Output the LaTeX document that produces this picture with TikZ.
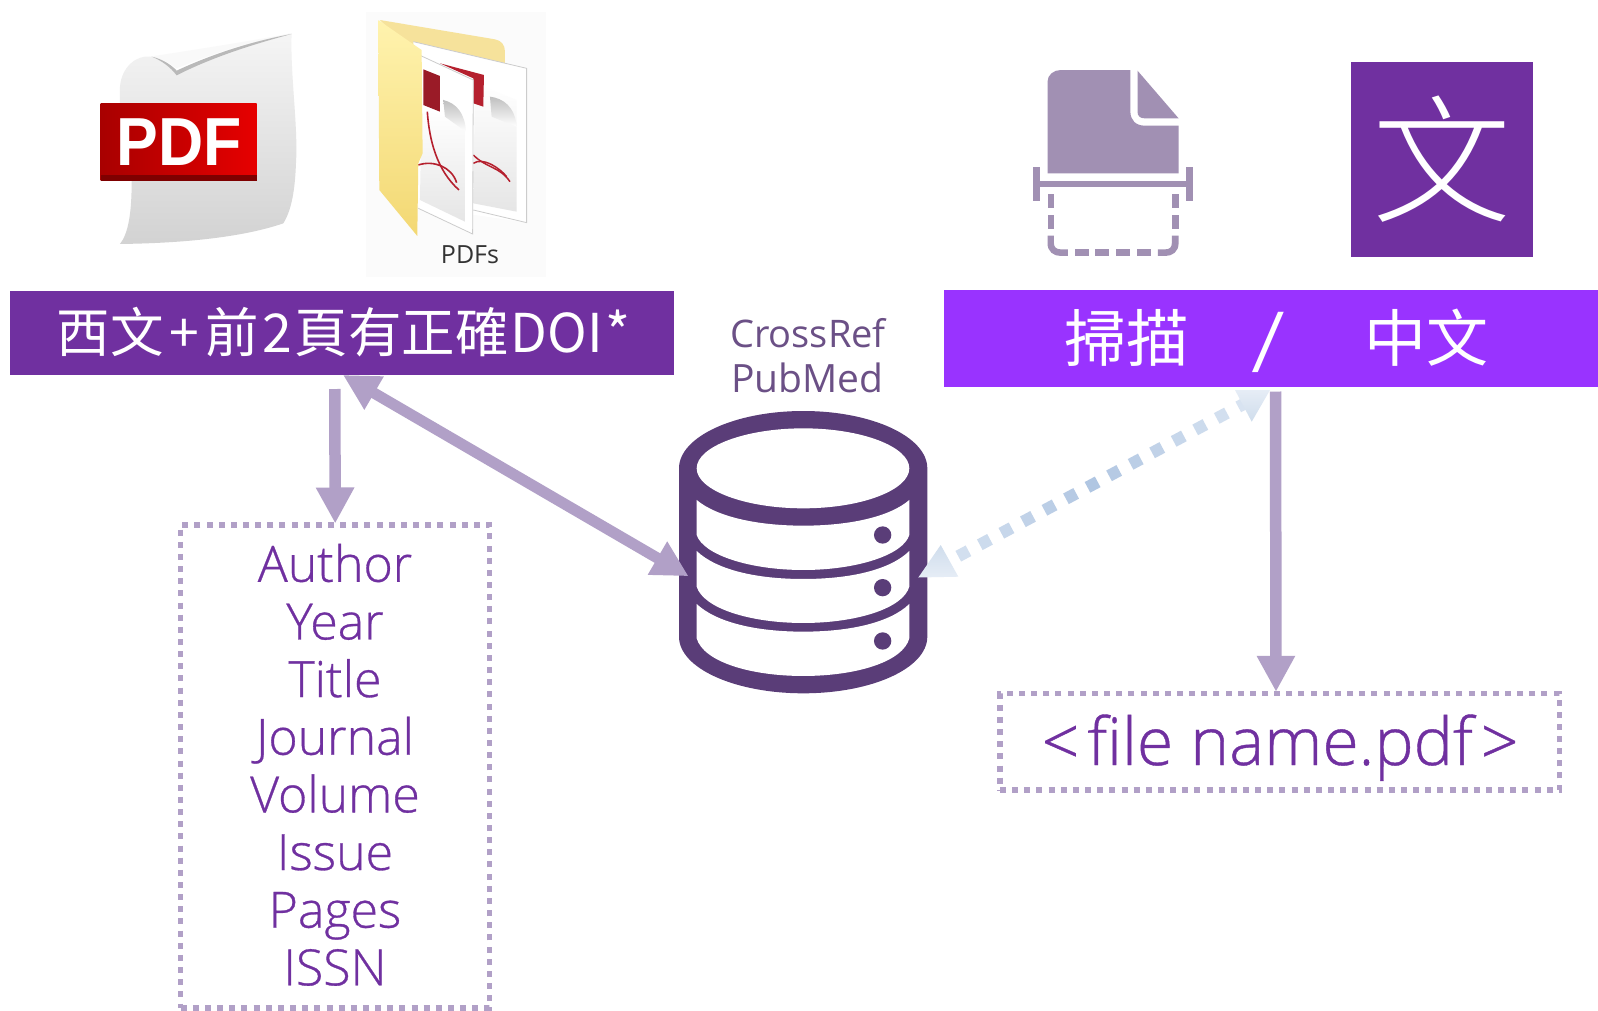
\documentclass[tikz,border=0pt]{standalone}
\usepackage{fontspec}
\usetikzlibrary{arrows.meta,calc}
\newfontfamily\cjkf{Noto Sans CJK TC}
\newfontfamily\cjkl{Noto Sans CJK TC Light}
\newfontfamily\latf{Open Sans}
\newfontfamily\latl{Open Sans Light}[FakeBold=0.6]
\newfontfamily\boldf{Liberation Sans}[BoldFont={Liberation Sans Bold}]
\definecolor{purp}{HTML}{7030A0}
\definecolor{brightp}{HTML}{9933FF}
\definecolor{lav}{HTML}{B1A0C7}
\definecolor{dbc}{HTML}{5A3D78}
\definecolor{scanc}{HTML}{A190B3}
\definecolor{midb}{HTML}{B0C6E2}
\definecolor{endb}{HTML}{D8E3F1}
\definecolor{headA}{HTML}{CFDDEC}
\definecolor{headB}{HTML}{E6EDF6}
\definecolor{redL}{HTML}{A80000}
\definecolor{redR}{HTML}{E60000}
\definecolor{foldB}{HTML}{F6E29B}
\definecolor{foldT}{HTML}{FFF3AE}
\definecolor{foldD}{HTML}{F3D873}
\definecolor{crimson}{HTML}{B5202E}
\tikzset{
 banner/.style={rectangle,inner sep=0pt,outer sep=0pt},
 dotbox/.style={rectangle,draw=lav,line width=5.5pt,dash pattern=on 6pt off 6.15pt,inner sep=0pt,outer sep=0pt},
 conn/.style={draw=lav,line width=11.5pt,-{Triangle[width=36pt,length=36pt,fill=lav]}},
 conntwo/.style={draw=lav,line width=11pt,{Triangle[width=36pt,length=36pt,fill=lav]}-{Triangle[width=36pt,length=36pt,fill=lav]}},
}
\begin{document}
\begin{tikzpicture}[x=1pt,y=-1pt]
\useasboundingbox (0,0) rectangle (1598,1010);
\fill[white] (0,0) rectangle (1598,1010);

% PDF page icon
\begin{scope}[xshift=60pt,x=0.3333pt,y=-0.3333pt]
\shade[top color=gray!8,bottom color=gray!35] (180,732) .. controls (205,700) and (215,640) .. (215,545)
 -- (180,312) -- (180,260) .. controls (185,200) and (230,165) .. (270,170)
 .. controls (300,175) and (330,195) .. (350,225) .. controls (450,165) and (560,125) .. (695,100)
 .. controls (690,220) and (715,380) .. (708,490) .. controls (705,570) and (695,630) .. (670,670)
 .. controls (540,715) and (350,730) .. (180,732) -- cycle;
\fill[gray!5] (270,170) .. controls (400,150) and (560,125) .. (695,100) .. controls (560,125) and (450,165) .. (350,205) .. controls (330,190) and (300,172) .. (270,170) -- cycle;
\fill[gray!55] (275,170) .. controls (305,176) and (335,195) .. (350,212) .. controls (450,165) and (570,125) .. (695,102) .. controls (570,135) and (450,175) .. (350,226) .. controls (330,200) and (305,182) .. (275,170) -- cycle;
\shade[left color=redL,right color=redR] (122,312) rectangle (590,542);
\fill[redL!75!black] (122,524) rectangle (590,542);
\node[font=\boldf\bfseries\fontsize{68}{68}\selectfont,text=white,anchor=base,inner sep=0pt] (pdfw) at (358,497) {\scalebox{0.92}[1]{PDF}};
\end{scope}

% PDFs folder icon
\fill[gray!3] (366,12) rectangle (546,277);
\begin{scope}[xshift=60pt,x=0.3333pt,y=-0.3333pt]
\fill[foldB] (960,60) -- (1305,118) .. controls (1325,122) and (1335,135) .. (1335,155) -- (1335,200) -- (1100,200) -- cycle;
\fill[white] (1060,125) -- (1400,205) -- (1400,668) -- (1075,620) -- cycle;
\draw[gray!40,line width=0.8pt] (1060,125) -- (1400,205) -- (1400,668) -- (1240,630);
\shade[top color=white,bottom color=gray!20] (1245,250) -- (1370,300) -- (1370,635) -- (1240,610) -- cycle;
\fill[crimson] (1140,190) -- (1272,225) -- (1270,320) -- (1240,310) -- (1240,235) -- cycle;
\shade[top color=gray!50,bottom color=white] (1290,290) .. controls (1330,295) and (1365,320) .. (1370,380) -- (1295,350) -- cycle;
\draw[crimson,line width=1.5pt] (1240,465) .. controls (1280,505) and (1320,500) .. (1350,545);
\draw[crimson,line width=1.5pt] (1240,490) .. controls (1270,470) and (1320,505) .. (1340,530);
\fill[white] (1078,165) -- (1240,240) -- (1238,702) -- (1075,625) -- cycle;
\draw[gray!40,line width=0.8pt] (1078,165) -- (1240,240) -- (1238,702) -- (1075,625);
\shade[top color=white,bottom color=gray!20] (1085,330) -- (1215,370) -- (1215,665) -- (1080,600) -- cycle;
\fill[crimson!85!black] (1090,208) -- (1140,228) -- (1140,335) -- (1090,315) -- cycle;
\shade[top color=gray!50,bottom color=white] (1150,300) .. controls (1190,310) and (1215,340) .. (1218,395) -- (1155,350) -- cycle;
\draw[crimson,line width=1.6pt] (1102,335) .. controls (1108,420) and (1130,510) .. (1197,570);
\draw[crimson,line width=1.6pt] (1075,495) .. controls (1120,480) and (1175,500) .. (1190,548);
\shade[top color=foldT,bottom color=foldD] (955,60) -- (1085,150) -- (1088,460) -- (1075,490) -- (1072,708) -- (958,570) -- cycle;
\end{scope}
\node[font=\latf\fontsize{25}{25}\selectfont,text=black!80,anchor=base,inner sep=0pt] (pdfs) at (470,263) {PDFs};

% scan icon
\begin{scope}[xshift=1000pt,yshift=-40pt,x=0.35714pt,y=-0.3333pt]
\fill[scanc] (133,400) -- (133,125) .. controls (133,105) and (150,90) .. (170,90) -- (365,90) -- (365,215) .. controls (365,240) and (380,257) .. (405,257) -- (500,257) -- (500,400) -- cycle;
\fill[scanc] (385,92) -- (500,235) -- (405,235) .. controls (392,235) and (385,228) .. (385,215) -- cycle;
\fill[scanc] (93,380) rectangle (113,484);
\fill[scanc] (520,380) rectangle (540,484);
\fill[scanc] (113,422) rectangle (520,442);
\foreach \yy in {462,524} {
 \fill[scanc] (133,\yy) rectangle (151,\yy+43);
 \fill[scanc] (481,\yy) rectangle (500,\yy+43);
}
\foreach \xx in {209,267,326,384} \fill[scanc] (\xx,628) rectangle (\xx+39,648);
\fill[scanc] (133,587) -- (133,610) .. controls (133,635) and (150,648) .. (170,648) -- (190,648) -- (190,628) -- (170,628) .. controls (158,628) and (151,622) .. (151,610) -- (151,587) -- cycle;
\fill[scanc] (500,587) -- (500,610) .. controls (500,635) and (483,648) .. (463,648) -- (442,648) -- (442,628) -- (463,628) .. controls (475,628) and (481,622) .. (481,610) -- (481,587) -- cycle;
\end{scope}

% wen icon
\node[banner,fill=purp,minimum width=182pt,minimum height=195pt,font=\cjkl\fontsize{139}{139}\selectfont,text=white] (wen) at (1442,159.5) {文};

% banners
\node[banner,fill=purp,minimum width=664pt,minimum height=84pt] (bL) at (342,333) {};
\node[font=\cjkf\fontsize{53.5}{53.5}\selectfont,text=white,anchor=base,inner sep=0pt] (bLt) at (343.5,352) {西文\hspace{6pt}+\hspace{6pt}前\hspace{3pt}2\hspace{3pt}頁有正確\hspace{2pt}DOI\hspace{2pt}*};
\node[banner,fill=brightp,minimum width=654pt,minimum height=97pt] (bR) at (1271,338.5) {};
\node[font=\cjkf\fontsize{62}{62}\selectfont,text=white,anchor=base,inner sep=0pt] (bRt) at (1276.5,361) {掃描\hspace{63pt}\scalebox{1.4}[1]{/}\hspace{79pt}中文};

% labels
\node[font=\latf\fontsize{38}{38}\selectfont,text=dbc!90,anchor=base,inner sep=0pt] (cr) at (808,347.5) {CrossRef};
\node[font=\latf\fontsize{39}{39}\selectfont,text=dbc!90,anchor=base,inner sep=0pt] (pm) at (807.5,392.5) {PubMed};

% database
\node[minimum width=248.3pt,minimum height=282.3pt,inner sep=0pt,outer sep=0pt] (db) at (803.2,552.2) {};
\begin{scope}[xshift=640pt,yshift=-380pt,x=0.3333pt,y=-0.3333pt]
\fill[dbc] (117,265) .. controls (117,170) and (285,93) .. (490,93) .. controls (695,93) and (862,170) .. (862,265) -- (862,770)
 .. controls (862,865) and (695,940) .. (490,940) .. controls (285,940) and (117,865) .. (117,770) -- cycle;
\fill[white] (170,265) .. controls (170,200) and (315,145) .. (490,145) .. controls (665,145) and (808,200) .. (808,265) .. controls (808,330) and (665,385) .. (490,385) .. controls (315,385) and (170,330) .. (170,265) -- cycle;
\fill[white] (170,360) .. controls (230,410) and (350,437) .. (490,437) .. controls (630,437) and (750,410) .. (808,360) -- (808,465) .. controls (790,525) and (650,570) .. (490,570) .. controls (330,570) and (190,525) .. (170,465) -- cycle;
\fill[white] (170,513) .. controls (230,570) and (350,597) .. (490,597) .. controls (630,597) and (750,570) .. (808,513) -- (808,620) .. controls (790,685) and (650,729) .. (490,729) .. controls (330,729) and (190,685) .. (170,620) -- cycle;
\fill[white] (170,672) .. controls (230,728) and (350,755) .. (490,755) .. controls (630,755) and (750,728) .. (808,672) -- (808,775) .. controls (790,845) and (650,888) .. (490,888) .. controls (330,888) and (190,845) .. (170,775) -- cycle;
\foreach \yy in {465,623,783} \fill[dbc] (728,\yy) ellipse [x radius=26,y radius=26];
\end{scope}

% boxes
\node[dotbox,minimum width=309pt,minimum height=483pt] (boxL) at (335.2,766.5) {};
\node[dotbox,minimum width=559.5pt,minimum height=96.7pt] (boxR) at (1279.75,741.65) {};
\node[font=\latl\fontsize{50}{57.65}\selectfont,text=purp,align=center,inner sep=0pt,anchor=base] (fields) at (335,985.3) {Author\\Year\\Title\\Journal\\Volume\\Issue\\Pages\\ISSN};
\node[font=\latl\fontsize{66}{66}\selectfont,text=purp,anchor=base,inner sep=0pt] (fname) at (1280,765) {<\hspace{8pt}file name.pdf\hspace{8pt}>};

% connectors
\draw[conn] ([shift={(-0.4pt,-14pt)}]bL.south -| boxL.north) -- ([shift={(0pt,1.5pt)}]boxL.north);
\draw[conntwo] ([xshift=1pt]bL.south) -- ([shift={(9.5pt,-24pt)}]db.west);
% dotted double arrow
\coordinate (dl) at ([shift={(-9pt,-25.3pt)}]db.east);
\coordinate (dr) at ([shift={(-1pt,-3pt)}]bR.south);
\foreach \i in {0,...,13} {
 \pgfmathsetmacro{\tc}{0.128+\i*0.06125}
 \pgfmathsetmacro{\ta}{\tc-0.0145}
 \pgfmathsetmacro{\tb}{\tc+0.0145}
 \pgfmathtruncatemacro{\mixv}{min(100,100*abs(\i-6)/7)}
 \draw[draw=endb!\mixv!midb,line width=12pt] ($(dl)!\ta!(dr)$) -- ($(dl)!\tb!(dr)$);
}
\shade[top color=headA,bottom color=headB] (dl) -- (958.3,576.7) -- (940.7,545) -- cycle;
\shade[top color=headB,bottom color=headA] (dr) -- (1235,390) -- (1251.7,421.7) -- cycle;
\draw[conn] ([shift={(4.5pt,-4.5pt)}]bR.south) -- ([shift={(-3.75pt,1.5pt)}]boxR.north);
\end{tikzpicture}
\end{document}
